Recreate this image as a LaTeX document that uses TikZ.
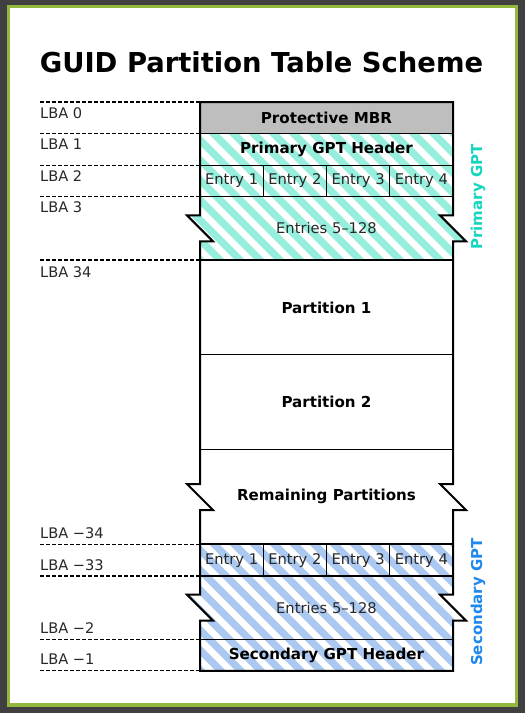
\documentclass[tikz,border=0pt]{standalone}
\usepackage{fontspec}
\setmainfont{DejaVu Sans}
\usepackage{xcolor}
\definecolor{framegray}{RGB}{64,64,64}
\definecolor{framegreen}{RGB}{146,184,62}
\definecolor{mbrgray}{RGB}{190,190,190}
\definecolor{primstripe}{RGB}{150,238,220}
\definecolor{secstripe}{RGB}{170,200,240}
\definecolor{primtext}{RGB}{20,214,190}
\definecolor{sectext}{RGB}{30,136,236}
\definecolor{labelgray}{RGB}{40,40,40}

\begin{document}
\begin{tikzpicture}[x=1pt,y=1pt,
  lbalabel/.style={anchor=base west,text=labelgray,font=\fontsize{14.6}{17}\selectfont},
  cell/.style={text=labelgray,font=\fontsize{14.7}{17}\selectfont},
  boldcell/.style={font=\fontsize{15.1}{18}\selectfont\bfseries},
  lbaline/.style={dash pattern=on 4pt off 2pt,line width=1.2pt},
  divider/.style={line width=1.2pt},
  sidelabel/.style={rotate=90,font=\fontsize{15}{18}\selectfont\bfseries}]
\tikzstyle{every node}+=[inner sep=0pt]
% frame
\fill [framegray] (0,0) rectangle (525,-713);
\fill [framegreen] (7,-5) rectangle (518,-707);
\fill [white] (10,-8) rectangle (515,-703);
\useasboundingbox (0,0) rectangle (525,-713);
% title
\node [anchor=base,font=\fontsize{27.4}{32}\selectfont\bfseries] (title) at (261.5,-72) {GUID Partition Table Scheme};
% protective MBR
\fill [mbrgray] (200,-102) rectangle (453,-133.6);
% primary GPT stripes
\begin{scope}
\clip (200,-133.6) -- (453,-133.6) -- (453,-215.4) -- (440,-215.4) -- (466,-241.4) -- (453,-241.4)
  -- (453,-260) -- (200,-260) -- (200,-241.4) -- (213,-241.4) -- (187,-215.4) -- (200,-215.4) -- cycle;
\foreach \s in {-160,-140,...,280}
  \draw [primstripe, line width=7.1pt] ({200+\s},-120) -- ++(150,-150);
\end{scope}
% secondary GPT stripes
\begin{scope}
\clip (200,-544.4) -- (453,-544.4) -- (453,-594.6) -- (440,-594.6) -- (466,-620.6) -- (453,-620.6)
  -- (453,-670.8) -- (200,-670.8) -- (200,-620.6) -- (213,-620.6) -- (187,-594.6) -- (200,-594.6) -- cycle;
\foreach \s in {-160,-140,...,280}
  \draw [secstripe, line width=7.1pt] ({200+\s},-530) -- ++(160,-160);
\end{scope}
% row dividers
\foreach \y in {133.6,165.2,196.8,354.8,449.6,576,639.2}
  \draw [divider] (200,-\y) -- (453,-\y);
\draw [line width=2pt] (200,-260) -- (453,-260);
\draw [line width=2pt] (200,-544.4) -- (453,-544.4);
\foreach \x in {263.25,326.5,389.75} {
  \draw [divider] (\x,-165.2) -- (\x,-196.8);
  \draw [divider] (\x,-544.4) -- (\x,-576);
}
% outline with breaks
\draw [black, line width=2pt, line join=miter] (200,-102) -- (453,-102)
  -- (453,-215.4) -- (440,-215.4) -- (466,-241.4) -- (453,-241.4)
  -- (453,-484) -- (440,-484) -- (466,-510) -- (453,-510)
  -- (453,-594.6) -- (440,-594.6) -- (466,-620.6) -- (453,-620.6)
  -- (453,-670.8) -- (200,-670.8)
  -- (200,-620.6) -- (213,-620.6) -- (187,-594.6) -- (200,-594.6)
  -- (200,-510) -- (213,-510) -- (187,-484) -- (200,-484)
  -- (200,-241.4) -- (213,-241.4) -- (187,-215.4) -- (200,-215.4)
  -- cycle;
% LBA markers
\foreach \y in {102,133.6,165.2,196.8,260,544.4,576,639.2,670.8}
  \draw [lbaline] (40,-\y) -- (200,-\y);
\node [lbalabel] (lba0) at (40,-118) {LBA 0};
\node [lbalabel] (lba1) at (40,-149.6) {LBA 1};
\node [lbalabel] (lba2) at (40,-181.2) {LBA 2};
\node [lbalabel] (lba3) at (40,-212.8) {LBA 3};
\node [lbalabel] (lba34) at (40,-277) {LBA 34};
\node [lbalabel] (lbam34) at (40,-538.4) {LBA −34};
\node [lbalabel] (lbam33) at (40,-570) {LBA −33};
\node [lbalabel] (lbam2) at (40,-633.2) {LBA −2};
\node [lbalabel] (lbam1) at (40,-664.8) {LBA −1};
% cell texts
\node [boldcell] (mbr) at (326.5,-117.8) {Protective MBR};
\node [boldcell] (phdr) at (326.5,-149.4) {Primary GPT Header};
\node [cell] (pe1) at (231.6,-181) {Entry 1};
\node [cell] (pe2) at (294.9,-181) {Entry 2};
\node [cell] (pe3) at (358.1,-181) {Entry 3};
\node [cell] (pe4) at (421.4,-181) {Entry 4};
\node [cell] (prest) at (326.5,-228.4) {Entries 5–128};
\node [boldcell] (part1) at (326.5,-307.4) {Partition 1};
\node [boldcell] (part2) at (326.5,-402.2) {Partition 2};
\node [boldcell] (partn) at (326.5,-496) {Remaining Partitions};
\node [cell] (se1) at (231.6,-560.2) {Entry 1};
\node [cell] (se2) at (294.9,-560.2) {Entry 2};
\node [cell] (se3) at (358.1,-560.2) {Entry 3};
\node [cell] (se4) at (421.4,-560.2) {Entry 4};
\node [cell] (srest) at (326.5,-607.6) {Entries 5–128};
\node [boldcell] (shdr) at (326.5,-655) {Secondary GPT Header};
% side labels
\node [sidelabel, primtext] (pgpt) at (478,-197) {Primary GPT};
\node [sidelabel, sectext] (sgpt) at (478,-602) {Secondary GPT};
\end{tikzpicture}
\end{document}
